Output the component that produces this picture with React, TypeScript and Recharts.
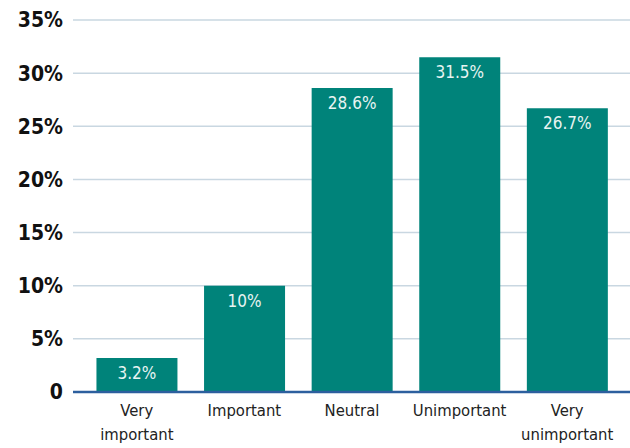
import React from "react";
import { BarChart, Bar, XAxis, YAxis, CartesianGrid, LabelList, ReferenceLine } from "recharts";

const categories = ["Very important", "Important", "Neutral", "Unimportant", "Very unimportant"];
const tickLines = [["Very", "important"], ["Important"], ["Neutral"], ["Unimportant"], ["Very", "unimportant"]];
const values = [3.2, 10, 28.6, 31.5, 26.7];
const yTicks = [0, 5, 10, 15, 20, 25, 30, 35];

const data = categories.map((c, i) => ({ name: c, value: values[i], idx: i }));
const FONT = "'DejaVu Sans Condensed', 'DejaVu Sans', sans-serif";

const XTick = (props: any) => {
  const { x, y, index } = props;
  const lines = tickLines[index] || [];
  return (
    <g transform={`translate(${x},${y})`}>
      {lines.map((l, i) => (
        <text key={i} x={0} y={16 + i * 24} textAnchor="middle" fill="#222" fontSize={16.5} fontFamily={FONT}>
          {l}
        </text>
      ))}
    </g>
  );
};

export default function App() {
  return (
    <div style={{ position: "absolute", left: 0, top: 0, width: 630, height: 448, background: "#fff" }}>
      <BarChart width={630} height={448} data={data} margin={{ top: 20, right: 0, bottom: 0, left: 0 }} barCategoryGap="12.5%">
        <CartesianGrid vertical={false} stroke="#c9d7e1" strokeWidth={1.5} />
        <XAxis
          dataKey="name"
          height={56}
          tick={<XTick />}
          tickLine={false}
          axisLine={false}
          interval={0}
          padding={{ left: 10, right: 9 }}
        />
        <YAxis
          domain={[0, 35]}
          ticks={yTicks}
          width={73}
          tickLine={false}
          axisLine={false}
          tickMargin={4}
          tickFormatter={(v: number) => (v === 0 ? "0" : `${v}%`)}
          tick={{ fill: "#111", fontSize: 21, fontWeight: 700, fontFamily: FONT }}
        />
        <Bar dataKey="value" fill="#00837a" isAnimationActive={false}>
          <LabelList
            dataKey="value"
            position="insideTop"
            offset={9}
            formatter={(v: number) => `${v}%`}
            fill="#e8f4f2"
            fontSize={17}
            fontFamily={FONT}
          />
        </Bar>
        <ReferenceLine y={0} stroke="#2c5f9e" strokeWidth={2.5} />
      </BarChart>
    </div>
  );
}
